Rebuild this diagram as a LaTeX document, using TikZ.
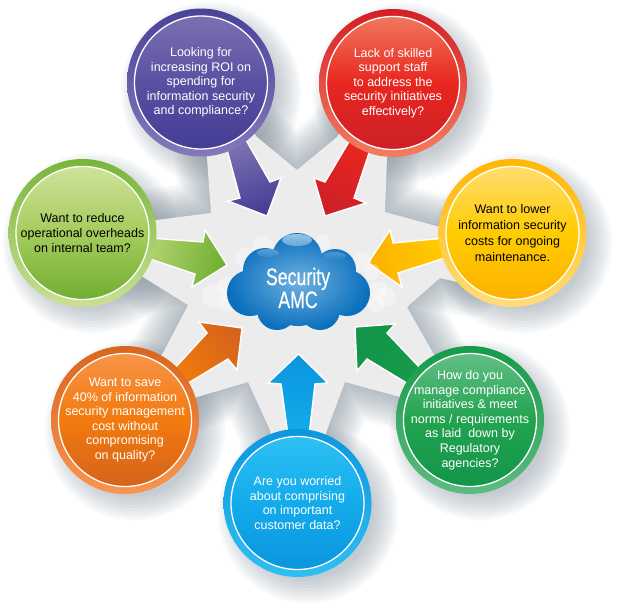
\documentclass[tikz,border=0pt]{standalone}
\usepackage{fontspec}
\setmainfont{Liberation Sans}
\newfontfamily\cloudfont[FakeStretch=0.74,FakeBold=0.4]{Liberation Sans}

\definecolor{starfill}{HTML}{ECECEC}
\definecolor{shadowgrey}{HTML}{7F8E99}
\definecolor{cloudmid}{HTML}{6FB1DF}
\definecolor{cloudrim}{HTML}{0A6FBD}
% purple
\definecolor{purpleA}{HTML}{4A4399}\definecolor{purpleB}{HTML}{8379BA}
\definecolor{purpleC}{HTML}{7B70B2}\definecolor{purpleD}{HTML}{5A50A2}\definecolor{purpleE}{HTML}{443D95}
% red
\definecolor{redA}{HTML}{D42027}\definecolor{redB}{HTML}{F47C5F}
\definecolor{redC}{HTML}{F0785C}\definecolor{redD}{HTML}{E8261F}\definecolor{redE}{HTML}{CC2027}
% yellow
\definecolor{yellowA}{HTML}{FFB700}\definecolor{yellowB}{HTML}{FFDD7A}
\definecolor{yellowC}{HTML}{FFDD70}\definecolor{yellowD}{HTML}{FFCC00}\definecolor{yellowE}{HTML}{FDB100}
% dark green
\definecolor{greenA}{HTML}{169A49}\definecolor{greenB}{HTML}{5DBB80}
\definecolor{greenC}{HTML}{62BE85}\definecolor{greenD}{HTML}{22A350}\definecolor{greenE}{HTML}{13954A}
% blue
\definecolor{blueA}{HTML}{0C96DF}\definecolor{blueB}{HTML}{2FBFF2}
\definecolor{blueC}{HTML}{2DC0F3}\definecolor{blueD}{HTML}{13ABEB}\definecolor{blueE}{HTML}{0B95DE}
% orange
\definecolor{orangeA}{HTML}{D9661E}\definecolor{orangeB}{HTML}{F89550}
\definecolor{orangeC}{HTML}{F79447}\definecolor{orangeD}{HTML}{F27A0E}\definecolor{orangeE}{HTML}{D5631C}
% light green
\definecolor{limeA}{HTML}{78B53A}\definecolor{limeB}{HTML}{CBE093}
\definecolor{limeC}{HTML}{CFE29A}\definecolor{limeD}{HTML}{A4CC5C}\definecolor{limeE}{HTML}{70AE30}

\tikzset{
  ring/.style={circle,minimum size=148pt,inner sep=0pt,top color=#1A,bottom color=#1B},
  disc/.style={circle,minimum size=133pt,inner sep=-25pt,draw=white,line width=1.3pt,align=center,
    font=\fontsize{12.5}{14.6}\selectfont,top color=#1C,bottom color=#1E,middle color=#1D},
  pointer/.style={draw=white,line width=1.4pt,line join=miter},
}
\def\starpath{(297,170) -- (337,137) -- (352,110) -- (387,120) -- (387,158) -- (385,212)
  -- (440,227) -- (470,230) -- (470,285) -- (440,278) -- (407,307) -- (433,353) -- (450,380)
  -- (420,410) -- (400,397) -- (345,382) -- (327,430) -- (320,460) -- (275,460) -- (270,430)
  -- (248,382) -- (197,397) -- (170,410) -- (140,380) -- (163,353) -- (188,305) -- (143,277)
  -- (120,270) -- (120,225) -- (157,220) -- (211,213) -- (207,158) -- (207,120) -- (240,115)
  -- (257,137) -- cycle}

\begin{document}
\begin{tikzpicture}[x=1pt,y=-1pt]
  \useasboundingbox[fill=white] (0,0) rectangle (620,605);

  % soft shadows of the bubbles
  \foreach \cx/\cy in {201/82,393/83,512/233,470/420,298/503,125/420,83/233}
    \foreach \r in {66,69,...,90}
      \fill[shadowgrey,opacity=.06] (\cx+10,\cy+10) circle (\r);

  % star behind the arrows
  \foreach \w in {4,9,...,64}
    \draw[shadowgrey,opacity=.055,line width=\w pt,line join=round] \starpath;
  \fill[starfill] \starpath;

  % arrows
  \draw[pointer,top color=purpleC,bottom color=purpleE,shading angle=20]
    (226,146) -- (240,198) -- (228,201) -- (267,216) -- (281,178) -- (270,182) -- (246,140) -- cycle;
  \draw[pointer,top color=redD,bottom color=redE,shading angle=-20]
    (350,140) -- (325,182) -- (314,178) -- (325,216) -- (366,203) -- (354,198) -- (370,150) -- cycle;
  \draw[pointer,top color=yellowD,bottom color=yellowE,shading angle=-79]
    (445,238) -- (393,243) -- (390,230) -- (368,263) -- (402,287) -- (398,273) -- (448,257) -- cycle;
  \draw[pointer,top color=greenA,bottom color=greenE,shading angle=-130]
    (422,370) -- (387,333) -- (395,324) -- (355,327) -- (357,371) -- (367,359) -- (410,385) -- cycle;
  \draw[pointer,top color=blueD,bottom color=blueE,shading angle=180]
    (309,435) -- (315,384) -- (328,383) -- (298.500,354) -- (268,383) -- (281,384) -- (288,435) -- cycle;
  \draw[pointer,top color=orangeD,bottom color=orangeE,shading angle=128]
    (173,370) -- (207,333) -- (199,322) -- (242,328) -- (237,370) -- (228,359) -- (185,385) -- cycle;
  \draw[pointer,top color=limeD!70!limeC,bottom color=limeE,shading angle=77]
    (150,238) -- (203,242) -- (205,230) -- (227,265) -- (192,287) -- (195,274) -- (147,258) -- cycle;

  % bubbles
  \node[ring=purple] (purplering) at (201,82.5) {};
  \node[disc=purple,text=white] (purple) at (purplering) {Looking for\\increasing ROI on\\spending for\\information security\\and compliance?};
  \node[ring=red] (redring) at (393,83) {};
  \node[disc=red,text=white] (red) at (redring) {Lack of skilled\\support staff\\to address the\\security initiatives\\effectively?};
  \node[ring=yellow] (yellowring) at (512.5,233) {};
  \node[disc=yellow,text=black,font=\fontsize{12.5}{16.2}\selectfont] (yellow) at (yellowring) {Want to lower\\information security\\costs for ongoing\\maintenance.};
  \node[ring=green] (greenring) at (470,420) {};
  \node[disc=green,text=white] (green) at (greenring) {How do you\\manage compliance\\initiatives \& meet\\norms / requirements\\as laid\ \ down by\\Regulatory\\agencies?};
  \node[ring=blue] (bluering) at (297.5,503) {};
  \node[disc=blue,text=white] (blue) at (bluering) {Are you worried\\about comprising\\on important\\customer data?};
  \node[ring=orange] (orangering) at (125,420) {};
  \node[disc=orange,text=white] (orange) at (orangering) {Want to save\\40\% of information\\security management\\cost without\\compromising\\on quality?};
  \node[ring=lime] (limering) at (82.5,233) {};
  \node[disc=lime,text=black] (lime) at (limering) {Want to reduce\\operational overheads\\on internal team?};

  % white puffs behind the cloud
  \foreach \px/\py/\r in {263/247/11,245/258/10,226/285/8,214/296/12,228/303/9,322/242/8,
      362/262/10,372/272/8,378/290/9,386/297/10,376/305/8}
    \fill[white,opacity=.35] (\px,\py) circle (\r);

  % cloud
  \shade[inner color=cloudmid,outer color=cloudrim]
    (297,258) circle (25) (265,270) circle (22) (335,270) circle (21)
    (250,293) circle (23) (347,293) circle (23) (277,310) circle (20) (320,310) circle (20)
    (298,288) circle (38);
  \shade[top color=white!60!cloudmid,bottom color=cloudrim!70!cloudmid,opacity=.75]
    (297,240) ellipse (15 and 6) (268,253) ellipse (11 and 4) (335,256) ellipse (11 and 4);
  \node[text=white,align=center,font=\cloudfont\fontsize{24}{23}\selectfont] (cloud) at (298,288) {Security\\AMC};
\end{tikzpicture}
\end{document}
